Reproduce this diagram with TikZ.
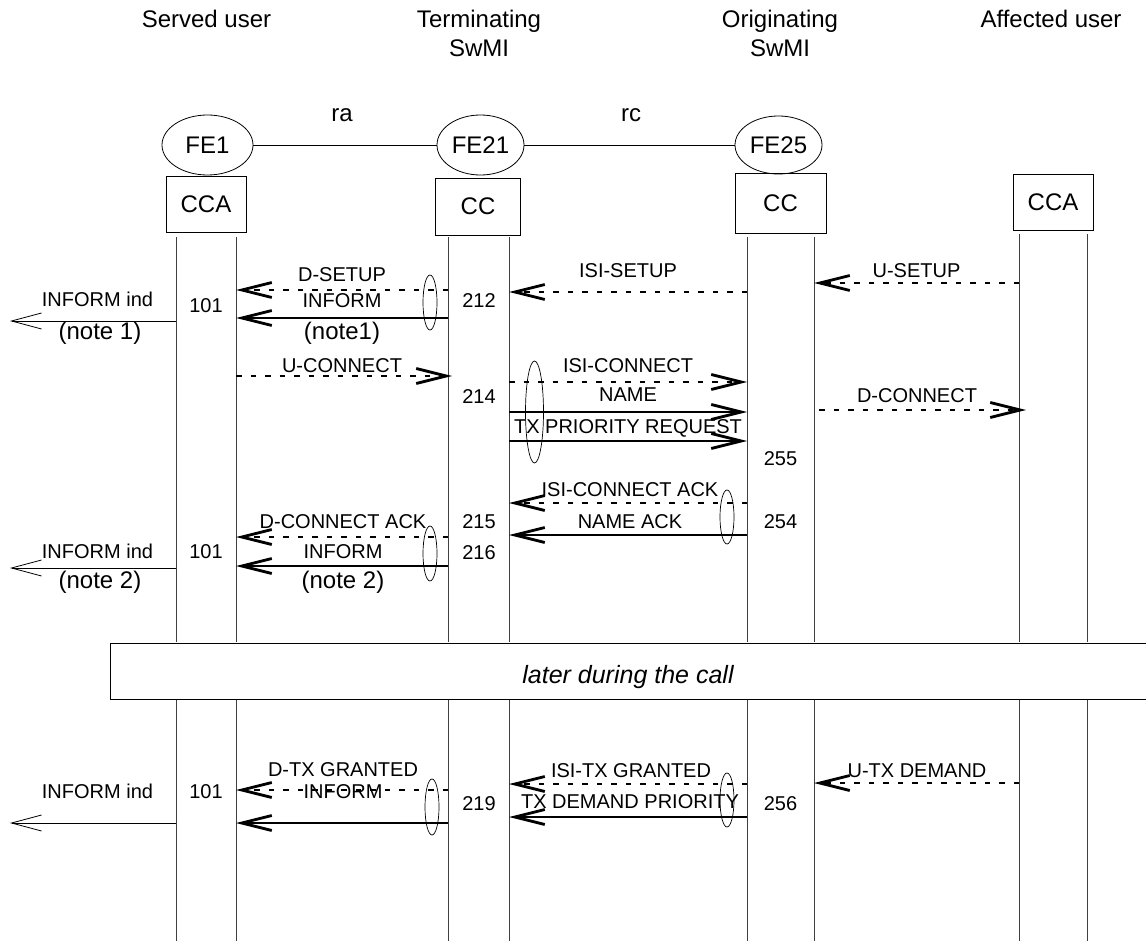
\documentclass[tikz,border=0pt]{standalone}
\usepackage{fontspec}
\setmainfont{Liberation Sans}
\usetikzlibrary{arrows.meta,shapes.geometric}

\begin{document}
\begin{tikzpicture}[x=1pt,y=-1pt,
  life/.style={draw=black!75, line width=1pt},
  hdr/.style={font=\fontsize{24}{29}\selectfont, anchor=base, inner sep=0pt},
  lbl/.style={font=\fontsize{20}{24}\selectfont, anchor=base, inner sep=0pt},
  note/.style={font=\fontsize{24}{29}\selectfont, anchor=base, inner sep=0pt},
  fe/.style={draw, ellipse, line width=0.8pt, inner sep=0pt, font=\fontsize{24}{29}\selectfont},
  ent/.style={draw, rectangle, line width=0.8pt, inner sep=0pt, font=\fontsize{24}{29}\selectfont},
  grp/.style={draw, ellipse, line width=0.7pt, inner sep=0pt, minimum width=14pt},
  sig/.style={line width=2.8pt, -{Straight Barb[length=30pt,width=15pt]}},
  dsig/.style={sig, dash pattern=on 5.5pt off 9pt},
  ext/.style={line width=0.8pt, -{Straight Barb[length=30pt,width=16pt]}}
]
\useasboundingbox (0,0) rectangle (1146,941);

% column headings
\node[hdr] (served) at (206.5,28) {Served user};
\node[hdr] (term) at (479,28) {Terminating};
\node[hdr] (termsw) at (479,57) {SwMI};
\node[hdr] (orig) at (780,28) {Originating};
\node[hdr] (origsw) at (780,57) {SwMI};
\node[hdr] (affected) at (1051,28) {Affected user};

% functional entities and relationships
\node[fe, minimum width=91pt, minimum height=60pt] (fe1) at (207.5,145) {FE1};
\node[fe, minimum width=87pt, minimum height=60pt] (fe21) at (480.5,145) {FE21};
\node[fe, minimum width=87pt, minimum height=58pt] (fe25) at (778.5,145) {FE25};
\draw[line width=0.8pt] (fe1) -- (fe21);
\draw[line width=0.8pt] (fe21) -- (fe25);
\node[hdr] (ra) at (342,122) {ra};
\node[hdr] (rc) at (631,122) {rc};

% entity boxes
\node[ent, minimum width=80pt, minimum height=56pt] (cca1) at (206,204) {CCA};
\node[ent, minimum width=85pt, minimum height=57pt] (cc21) at (478,206.5) {CC};
\node[ent, minimum width=91pt, minimum height=60pt] (cc25) at (780.5,203) {CC};
\node[ent, minimum width=80pt, minimum height=56pt] (cca2) at (1053,202) {CCA};

% lifelines
\coordinate (a1) at (176,237);
\coordinate (a2) at (236,237);
\coordinate (b1) at (448,237);
\coordinate (b2) at (509,237);
\coordinate (c1) at (747,237);
\coordinate (c2) at (814,237);
\coordinate (d1) at (1019,234);
\coordinate (d2) at (1087,234);
\foreach \l in {a1,a2,b1,b2,c1,c2,d1,d2}{
  \draw[life] (\l) -- (\l |- 0,642);
  \draw[life] (\l |- 0,699) -- (\l |- 0,941);
}

% time break
\draw[line width=1pt] (1146,643) -- (110,643) -- (110,699) -- (1146,699);
\node[anchor=base, inner sep=0pt, font=\fontsize{25}{30}\selectfont\itshape] (later) at (628,683) {later during the call};

% ---- call set-up ----
\draw[dsig] (b1 |- 0,290) -- (a2 |- 0,290);
\node[lbl] (dsetup) at (342,282) {D-SETUP};
\draw[sig] (b1 |- 0,318) -- (a2 |- 0,318);
\node[lbl] (inf1) at (342,308) {INFORM};
\node[note] (n1a) at (342,340) {(note1)};
\node[grp, minimum height=55pt] (g1) at (430,302.5) {};
\coordinate (o1) at (10,321);
\draw[ext] (a1 |- o1) -- (o1);
\node[lbl] (ind1) at (97.5,307) {INFORM ind};
\node[note] (n1b) at (100,340) {(note 1)};
\node[lbl] (s101a) at (206,313) {101};
\node[lbl] (s212) at (479,308) {212};

\draw[dsig] (c1 |- 0,292) -- (b2 |- 0,292);
\node[lbl] (isisetup) at (628,278) {ISI-SETUP};
\draw[dsig] (d1 |- 0,283) -- (c2 |- 0,283);
\node[lbl] (usetup) at (916.5,278) {U-SETUP};

\draw[dsig, shorten >=-4pt] (a2 |- 0,376) -- (b1 |- 0,376);
\node[lbl] (uconn) at (342,372) {U-CONNECT};
\node[lbl] (s214) at (479,403) {214};
\draw[dsig] (b2 |- 0,382) -- (c1 |- 0,382);
\node[lbl] (isiconn) at (628,372) {ISI-CONNECT};
\draw[sig] (b2 |- 0,412) -- (c1 |- 0,412);
\node[lbl] (name) at (628,401.5) {NAME};
\draw[sig] (b2 |- 0,441) -- (c1 |- 0,441);
\node[lbl] (txpr) at (628,433) {TX PRIORITY REQUEST};
\node[grp, minimum width=18pt, minimum height=102pt] (g2) at (534.5,412) {};
\draw[dsig, shorten <=5pt, shorten >=-7pt] (c2 |- 0,410) -- (d1 |- 0,410);
\node[lbl] (dconn) at (917,402) {D-CONNECT};
\node[lbl] (s255) at (780.5,465) {255};

\draw[dsig] (c1 |- 0,503) -- (b2 |- 0,503);
\node[lbl] (isiack) at (630,496.7) {ISI-CONNECT ACK};
\draw[sig] (c1 |- 0,535) -- (b2 |- 0,535);
\node[lbl] (nameack) at (630,528) {NAME ACK};
\node[grp, minimum height=54pt] (g3) at (727,517) {};
\node[lbl] (s215) at (479,528) {215};
\node[lbl] (s254) at (780.5,528) {254};
\node[lbl] (s216) at (479,559) {216};

\draw[dsig] (b1 |- 0,537) -- (a2 |- 0,537);
\node[lbl] (dconnack) at (343,528) {D-CONNECT ACK};
\draw[sig] (b1 |- 0,566) -- (a2 |- 0,566);
\node[lbl] (inf2) at (343,558) {INFORM};
\node[note] (n2a) at (343,588.6) {(note 2)};
\node[grp, minimum height=55pt] (g4) at (430,553.5) {};
\node[lbl] (s101b) at (206,558) {101};
\coordinate (o2) at (10,568);
\draw[ext] (a1 |- o2) -- (o2);
\node[lbl] (ind2) at (97.5,558) {INFORM ind};
\node[note] (n2b) at (100,588.6) {(note 2)};

% ---- later during the call ----
\draw[dsig] (b1 |- 0,790) -- (a2 |- 0,790);
\node[lbl] (dtxg) at (343,776.7) {D-TX GRANTED};
\draw[sig] (b1 |- 0,823) -- (a2 |- 0,823);
\node[lbl] (inf3) at (343,798) {INFORM};
\node[grp, minimum height=56pt] (g5) at (432,807) {};
\node[lbl] (s101c) at (206,798) {101};
\coordinate (o3) at (10,823);
\draw[ext] (a1 |- o3) -- (o3);
\node[lbl] (ind3) at (97.5,798) {INFORM ind};
\node[lbl] (s219) at (479,810) {219};

\draw[dsig] (c1 |- 0,784) -- (b2 |- 0,784);
\node[lbl] (isitxg) at (631,777) {ISI-TX GRANTED};
\draw[sig] (c1 |- 0,817) -- (b2 |- 0,817);
\node[lbl] (txdp) at (630,808) {TX DEMAND PRIORITY};
\node[grp, minimum height=54pt] (g6) at (727,800) {};
\node[lbl] (s256) at (780.5,810) {256};
\draw[dsig] (d1 |- 0,783) -- (c2 |- 0,783);
\node[lbl] (utxd) at (917,777) {U-TX DEMAND};
\end{tikzpicture}
\end{document}
